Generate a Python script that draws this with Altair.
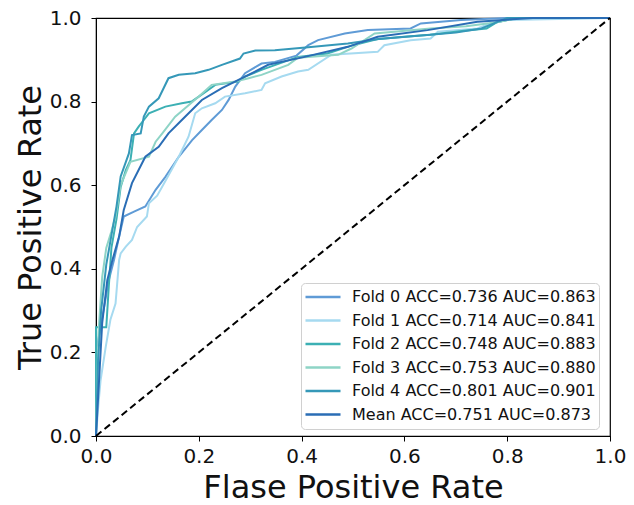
import altair as alt
import pandas as pd

labels = [
    "Fold 0 ACC=0.736 AUC=0.863",
    "Fold 1 ACC=0.714 AUC=0.841",
    "Fold 2 ACC=0.748 AUC=0.883",
    "Fold 3 ACC=0.753 AUC=0.880",
    "Fold 4 ACC=0.801 AUC=0.901",
    "Mean ACC=0.751 AUC=0.873",
]
colors = ["#5f9bd6", "#a6daf0", "#3cb0b4", "#8ed4c6", "#3598b8", "#2a6db5"]

fpr0 = [0, 0, 0.003, 0.016, 0.025, 0.035, 0.045, 0.054, 0.074, 0.096, 0.116, 0.135, 0.161, 0.187, 0.206, 0.225, 0.245, 0.258, 0.271, 0.290, 0.322, 0.348, 0.39, 0.413, 0.432, 0.484, 0.529, 0.612, 0.632, 0.71, 0.80, 1.0]
tpr0 = [0, 0.21, 0.22, 0.31, 0.373, 0.421, 0.477, 0.525, 0.537, 0.549, 0.589, 0.620, 0.668, 0.708, 0.732, 0.756, 0.780, 0.804, 0.836, 0.868, 0.891, 0.895, 0.91, 0.935, 0.947, 0.963, 0.971, 0.975, 0.987, 0.995, 1.0, 1.0]

fpr1 = [0, 0.005, 0.009, 0.019, 0.028, 0.038, 0.045, 0.048, 0.058, 0.070, 0.080, 0.099, 0.103, 0.119, 0.135, 0.161, 0.180, 0.193, 0.206, 0.232, 0.251, 0.290, 0.322, 0.329, 0.361, 0.393, 0.413, 0.458, 0.548, 0.561, 0.612, 0.651, 0.665, 0.742, 0.767, 0.80, 1.0]
tpr1 = [0, 0.08, 0.134, 0.214, 0.278, 0.317, 0.421, 0.437, 0.453, 0.469, 0.500, 0.525, 0.557, 0.575, 0.61, 0.668, 0.716, 0.772, 0.784, 0.796, 0.812, 0.820, 0.828, 0.844, 0.860, 0.872, 0.876, 0.912, 0.919, 0.935, 0.947, 0.951, 0.967, 0.975, 0.987, 0.995, 1.0]

fpr2 = [0, 0, 0.02, 0.025, 0.03, 0.04, 0.048, 0.058, 0.067, 0.074, 0.083, 0.093, 0.103, 0.135, 0.167, 0.186, 0.2, 0.232, 0.277, 0.29, 0.322, 0.393, 0.45, 0.5, 0.55, 0.6, 0.65, 0.72, 0.76, 0.78, 0.82, 1.0]
tpr2 = [0, 0.26, 0.26, 0.36, 0.45, 0.52, 0.596, 0.636, 0.660, 0.724, 0.740, 0.756, 0.772, 0.788, 0.796, 0.800, 0.812, 0.840, 0.848, 0.860, 0.876, 0.907, 0.915, 0.935, 0.95, 0.955, 0.96, 0.97, 0.975, 0.99, 1.0, 1.0]

fpr3 = [0, 0.005, 0.012, 0.02, 0.03, 0.038, 0.048, 0.067, 0.103, 0.116, 0.129, 0.154, 0.2, 0.225, 0.271, 0.297, 0.322, 0.374, 0.393, 0.471, 0.497, 0.542, 0.651, 0.72, 0.78, 0.82, 1.0]
tpr3 = [0, 0.25, 0.38, 0.45, 0.49, 0.525, 0.6, 0.656, 0.668, 0.704, 0.724, 0.764, 0.812, 0.840, 0.848, 0.856, 0.864, 0.888, 0.905, 0.912, 0.927, 0.963, 0.975, 0.98, 0.99, 1.0, 1.0]

fpr4 = [0, 0.004, 0.01, 0.02, 0.03, 0.04, 0.048, 0.064, 0.070, 0.087, 0.093, 0.103, 0.122, 0.141, 0.161, 0.193, 0.219, 0.245, 0.280, 0.287, 0.310, 0.348, 0.413, 0.49, 0.55, 0.65, 0.70, 0.75, 0.78, 0.80, 1.0]
tpr4 = [0, 0.18, 0.3, 0.41, 0.48, 0.55, 0.621, 0.676, 0.720, 0.724, 0.764, 0.788, 0.808, 0.856, 0.864, 0.868, 0.876, 0.888, 0.903, 0.915, 0.922, 0.923, 0.930, 0.939, 0.95, 0.96, 0.965, 0.975, 0.99, 1.0, 1.0]

fprm = [0, 0.006, 0.012, 0.022, 0.032, 0.045, 0.054, 0.070, 0.096, 0.122, 0.141, 0.167, 0.206, 0.245, 0.284, 0.335, 0.406, 0.49, 0.548, 0.645, 0.742, 0.8, 0.85, 1.0]
tprm = [0, 0.134, 0.27, 0.373, 0.421, 0.477, 0.541, 0.605, 0.668, 0.692, 0.724, 0.756, 0.804, 0.832, 0.856, 0.888, 0.907, 0.931, 0.955, 0.971, 0.991, 0.996, 1.0, 1.0]

ticks = [0.0, 0.2, 0.4, 0.6, 0.8, 1.0]

series = [(fpr0, tpr0), (fpr1, tpr1), (fpr2, tpr2), (fpr3, tpr3), (fpr4, tpr4), (fprm, tprm)]
rows = []
for k, (lab, (f, t)) in enumerate(zip(labels, series)):
    for i, (a, b) in enumerate(zip(f, t)):
        rows.append({"series": lab, "fpr": a, "tpr": b, "idx": i, "k": k})
df = pd.DataFrame(rows)
diag = pd.DataFrame({"fpr": [0.0, 1.0], "tpr": [0.0, 1.0]})

xs = alt.Scale(domain=[0, 1], nice=False, zero=False)
ys = alt.Scale(domain=[0, 1], nice=False, zero=False)
xax = alt.Axis(title="Flase Positive Rate", values=ticks, format=".1f", labelFlush=False, labelPadding=5, titlePadding=6)
yax = alt.Axis(title="True Positive Rate", values=ticks, format=".1f", labelFlush=False, labelPadding=10, titlePadding=2)

diag_line = alt.Chart(diag).mark_line(color="black", strokeDash=[7, 4], strokeWidth=2).encode(
    x=alt.X("fpr:Q", scale=xs, axis=xax),
    y=alt.Y("tpr:Q", scale=ys, axis=yax),
)

curves = alt.Chart(df).mark_line(strokeWidth=2).encode(
    x=alt.X("fpr:Q", scale=xs, axis=xax),
    y=alt.Y("tpr:Q", scale=ys, axis=yax),
    color=alt.Color(
        "series:N",
        scale=alt.Scale(domain=labels, range=colors),
        sort=labels,
        legend=alt.Legend(
            title=None,
            orient="none",
            legendX=205,
            legendY=265,
            fillColor="white",
            strokeColor="#d0d0d0",
            cornerRadius=4,
            padding=3,
            labelFontSize=16,
            labelFont="DejaVu Sans",
            labelColor="#111111",
            labelLimit=0,
            symbolType="stroke",
            symbolSize=1225,
            symbolStrokeWidth=2.5,
            labelOffset=10,
            clipHeight=22,
            rowPadding=1.5,
        ),
    ),
    order=alt.Order("idx:Q"),
    strokeWidth=alt.condition(alt.datum.k == 5, alt.value(2.5), alt.value(2)),
)

chart = alt.layer(curves, diag_line).properties(
    width=514,
    height=418,
    padding={"left": 88, "top": 10, "right": 16, "bottom": 66},
    autosize=alt.AutoSizeParams(type="none"),
).configure_view(
    stroke="black", strokeWidth=1.2
).configure_axis(
    labelFont="DejaVu Sans",
    titleFont="DejaVu Sans",
    labelFontSize=20,
    titleFontSize=32,
    titleFontWeight="normal",
    labelColor="#111111",
    titleColor="#111111",
    tickColor="black",
    domainColor="black",
    tickSize=5,
    grid=False,
)

chart.save("out.html", embed_options={"renderer": "svg", "actions": False})
